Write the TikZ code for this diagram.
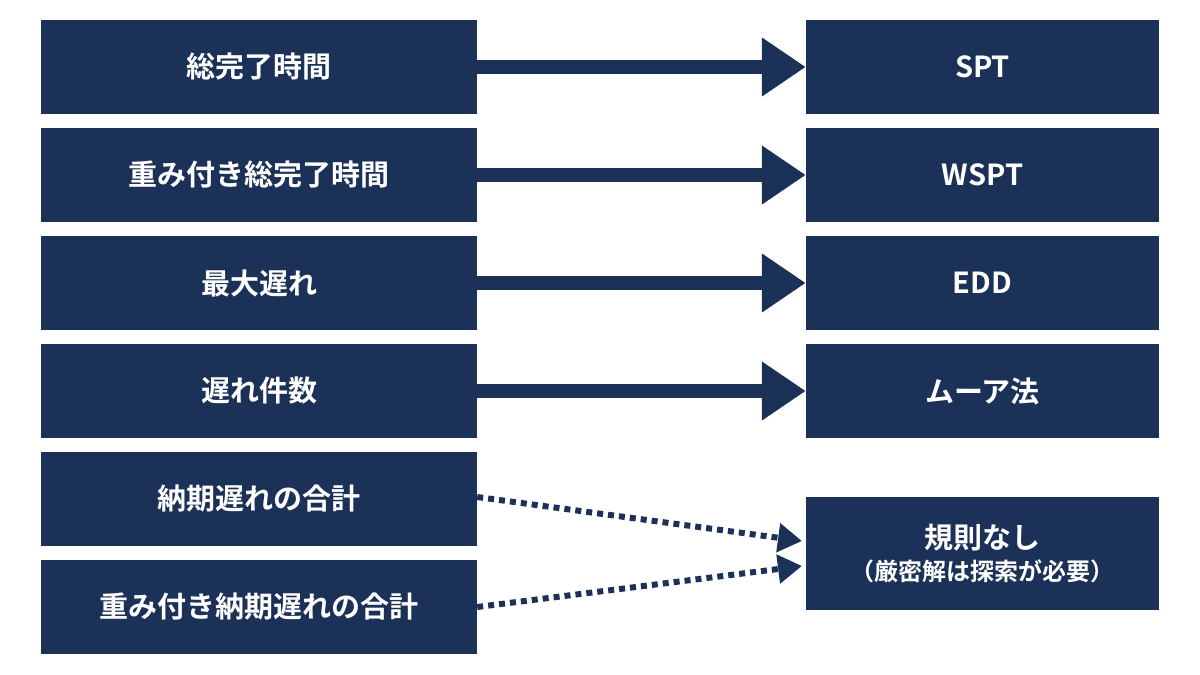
\documentclass[tikz,border=0pt]{standalone}
\usepackage{fontspec}
\setmainfont{Noto Sans CJK JP}[BoldFont={* Bold}]
\usetikzlibrary{arrows.meta}
\definecolor{navy}{HTML}{1B3158}
\begin{document}
\begin{tikzpicture}[x=1pt,y=-1pt,
 box/.style={fill=navy,text=white,font=\fontsize{29}{34}\selectfont\bfseries,inner sep=0,align=center},
 big/.style={navy,line width=14pt,-{Triangle[width=56pt,length=44pt]}},
 dot/.style={navy,line width=6pt,dash pattern=on 6pt off 5pt,-{Triangle[width=28pt,length=24pt]}}]
\useasboundingbox (0,0) rectangle (1200,675);
\foreach \i/\t/\r/\y in {1/総完了時間/SPT/20,2/重み付き総完了時間/WSPT/128,3/最大遅れ/EDD/236,4/遅れ件数/ムーア法/344}{
 \node[box,minimum width=436pt,minimum height=94pt] (L\i) at (259,\y+47) {\t};
 \node[box,minimum width=353pt,minimum height=94pt] (R\i) at (982.5,\y+47) {\r};
 \draw[big] (L\i.east) -- (R\i.west);
}
\node[box,minimum width=436pt,minimum height=94pt] (L5) at (259,499) {納期遅れの合計};
\node[box,minimum width=436pt,minimum height=94pt] (L6) at (259,607) {重み付き納期遅れの合計};
\node[box,minimum width=353pt,minimum height=113pt] (R5) at (982.5,553.5) {規則なし\\[-2pt]{\fontsize{24}{30}\selectfont （厳密解は探索が必要）}};
\coordinate (a) at (802,541);
\coordinate (b) at (802,566);
\draw[dot] (L5.east) ++(0,-2) -- (a);
\draw[dot] (L6.east) -- (b);
\end{tikzpicture}
\end{document}
